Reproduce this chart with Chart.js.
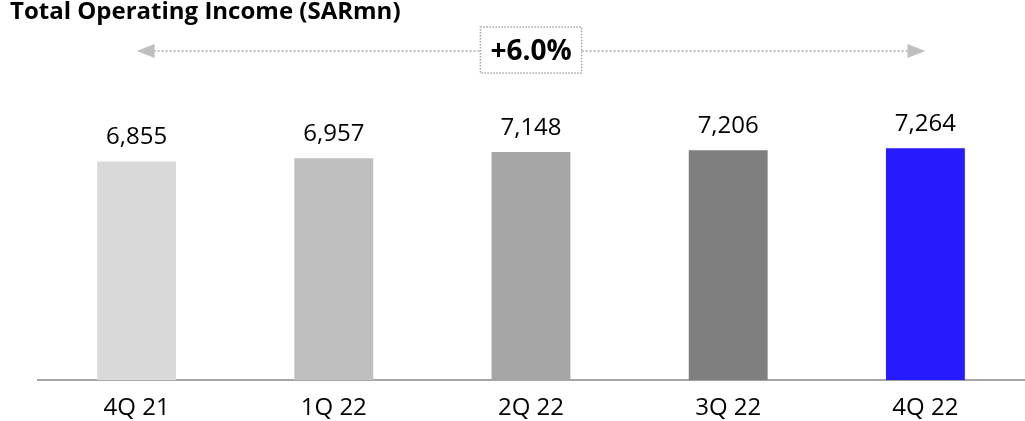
<!DOCTYPE html>
<html>
<head>
<meta charset="utf-8">
<script src="https://cdn.jsdelivr.net/npm/chart.js@4.4.0/dist/chart.umd.min.js"></script>
<style>
  html, body { margin: 0; padding: 0; background: #fff; }
  #wrap { position: relative; width: 1025px; height: 421px; }
  #title { position: absolute; left: 10px; top: -3px; font: bold 24px "Open Sans", sans-serif; color: #000; line-height: 26px; white-space: nowrap; }
</style>
</head>
<body>
<div id="wrap">
  <div id="title">Total Operating Income (SARmn)</div>
  <canvas id="chart" width="1025" height="421"></canvas>
</div>
<script>
const quarters = ['4Q 21', '1Q 22', '2Q 22', '3Q 22', '4Q 22'];
const income = [6855, 6957, 7148, 7206, 7264];
const barColors = ['#d9d9d9', '#bfbfbf', '#a6a6a6', '#7f7f7f', '#261aff'];

// growth first -> last quarter, shown in the dotted box
const growth = (income[income.length - 1] / income[0] - 1) * 100;
const growthLabel = '+' + growth.toFixed(1) + '%';

const valueLabels = {
    id: 'valueLabels',
    afterDatasetsDraw(chart) {
        const ctx = chart.ctx;
        const meta = chart.getDatasetMeta(0);
        ctx.save();
        ctx.font = '24px "Open Sans", sans-serif';
        ctx.fillStyle = '#000';
        ctx.textAlign = 'center';
        ctx.textBaseline = 'alphabetic';
        meta.data.forEach((bar, i) => {
            ctx.fillText(income[i].toLocaleString('en-US'), bar.x, bar.y - 17);
        });
        ctx.restore();
    }
};

const growthArrow = {
    id: 'growthArrow',
    afterDraw(chart) {
        const xs = chart.scales.x;
        const x0 = xs.getPixelForValue(0);
        const x1 = xs.getPixelForValue(quarters.length - 1);
        const y = 51;
        const mid = (x0 + x1) / 2;
        const ctx = chart.ctx;
        ctx.save();
        ctx.font = 'bold 28px "Open Sans", sans-serif';
        const tw = ctx.measureText(growthLabel).width;
        const boxW = tw + 20, boxH = 46;
        const bx = mid - boxW / 2;

        // dotted shaft
        ctx.strokeStyle = '#bfbfbf';
        ctx.lineWidth = 2;
        ctx.setLineDash([2, 2]);
        ctx.beginPath();
        ctx.moveTo(x0 + 17, y); ctx.lineTo(bx, y);
        ctx.moveTo(bx + boxW, y); ctx.lineTo(x1 - 17, y);
        ctx.stroke();

        // heads
        ctx.setLineDash([]);
        ctx.fillStyle = '#bfbfbf';
        ctx.beginPath();
        ctx.moveTo(x0, y); ctx.lineTo(x0 + 18, y - 7); ctx.lineTo(x0 + 18, y + 7); ctx.closePath();
        ctx.moveTo(x1, y); ctx.lineTo(x1 - 18, y - 7); ctx.lineTo(x1 - 18, y + 7); ctx.closePath();
        ctx.fill();

        // box
        ctx.strokeStyle = '#a6a6a6';
        ctx.lineWidth = 1.5;
        ctx.setLineDash([1.5, 1.5]);
        ctx.strokeRect(bx, y - 24, boxW, boxH);

        ctx.fillStyle = '#000';
        ctx.textAlign = 'center';
        ctx.textBaseline = 'middle';
        ctx.fillText(growthLabel, mid, y + 1);
        ctx.restore();
    }
};

new Chart(document.getElementById('chart'), {
    type: 'bar',
    data: {
        labels: quarters,
        datasets: [{
            data: income,
            backgroundColor: barColors,
            categoryPercentage: 1,
            barPercentage: 0.4
        }]
    },
    options: {
        responsive: false,
        animation: false,
        layout: { padding: { left: 38, right: 1, top: 61, bottom: -16 } },
        plugins: {
            legend: { display: false },
            tooltip: { enabled: false }
        },
        scales: {
            x: {
                grid: { display: false, drawTicks: false },
                border: { color: '#a6a6a6', width: 2 },
                ticks: { color: '#000', font: { family: 'Open Sans', size: 24 }, padding: 14 }
            },
            y: { display: false, min: 0, max: 10000 }
        }
    },
    plugins: [valueLabels, growthArrow]
});
</script>
</body>
</html>
